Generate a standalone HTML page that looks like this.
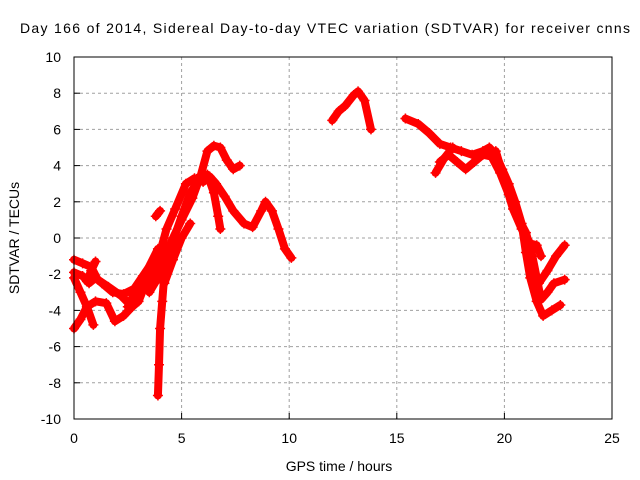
<!DOCTYPE html>
<html><head><meta charset="utf-8"><style>
body{margin:0;background:#fff}
svg{display:block;font-family:"Liberation Sans",sans-serif}
</style></head><body>
<svg id="chart" width="640" height="480">
<text x="20" y="33" font-size="14" textLength="610" lengthAdjust="spacing">Day 166 of 2014, Sidereal Day-to-day VTEC variation (SDTVAR) for receiver cnns</text>
<text x="339" y="471" font-size="14" text-anchor="middle">GPS time / hours</text>
<text transform="translate(19,238) rotate(-90)" font-size="14" text-anchor="middle">SDTVAR / TECUs</text>
<g id="grid"></g><g id="series"></g>
<rect x="74" y="57" width="538" height="362" fill="none" stroke="#000" stroke-width="1"/>
</svg>
<script>
const xTicks=[0,5,10,15,20,25];
const yTicks=[-10,-8,-6,-4,-2,0,2,4,6,8,10];
const tracks=[
[[0,-1.2],[0.4,-1.4],[0.8,-1.6],[1.1,-2.3],[1.6,-2.7],[2.2,-3.2],[2.7,-3.8],[3.1,-3.0],[3.6,-2.1],[4.1,-1.3],[4.6,0],[5.0,1.0],[5.5,2.2],[5.9,3.5],[6.2,4.8],[6.5,5.1],[6.8,5.0],[7.1,4.3],[7.4,3.8],[7.7,4.0]],
[[0,-1.9],[0.4,-2.1],[0.7,-2.5],[1.0,-2.2],[1.3,-2.5],[1.8,-3.0],[2.3,-3.1],[2.8,-2.8],[3.2,-2.1],[3.6,-1.4]],
[[0.6,-2.4],[0.8,-1.8],[1.0,-1.3]],
[[0,-2.2],[0.3,-3.0],[0.6,-3.8],[0.9,-4.8]],
[[0,-5.0],[0.3,-4.5],[0.6,-3.8],[1.0,-3.5],[1.5,-3.6],[1.9,-4.6],[2.3,-4.3],[2.7,-3.8],[3.0,-3.5],[3.3,-2.6],[3.7,-1.8],[4.0,-0.8],[4.3,0.5],[4.7,1.6],[5.2,3.0],[5.6,3.3],[6.0,3.1],[6.3,3.4],[6.6,3.0],[7.0,2.3],[7.4,1.5],[7.9,0.8],[8.3,0.6],[8.7,1.5],[8.9,2.0],[9.2,1.5],[9.5,0.5],[9.8,-0.6],[10.1,-1.1]],
[[4.2,-2.0],[4.1,-3.5],[4.0,-5.0],[3.95,-7.0],[3.9,-8.7]],
[[3.5,-3.0],[4.0,-2.0],[4.5,-0.5],[5.0,1.2],[5.4,2.5],[5.8,3.2],[6.2,3.5],[6.5,2.5],[6.7,1.2],[6.8,0.5]],
[[2.5,-3.8],[3.0,-2.6],[3.4,-1.8],[3.9,-0.6]],
[[3.8,1.2],[4.0,1.5]],
[[4.2,-2.5],[4.6,-1.2],[5.0,0],[5.4,0.8]],
[[12.0,6.5],[12.3,7.0],[12.6,7.3],[13.0,7.9],[13.2,8.1],[13.5,7.6],[13.8,6.0]],
[[15.4,6.6],[16.0,6.3],[16.5,5.8],[17.0,5.2],[17.5,5.0],[18.0,4.8],[18.5,4.6],[19.0,4.8],[19.3,5.0],[19.6,4.6],[19.9,3.8],[20.2,3.0],[20.5,2.0],[20.8,0.8],[21.0,-0.8],[21.2,-2.2],[21.5,-3.5],[21.8,-4.3],[22.2,-4.0],[22.6,-3.7]],
[[17.0,4.2],[17.4,4.6],[17.8,4.2],[18.2,3.8],[18.6,4.2],[19.0,4.6],[19.4,4.5],[19.8,3.6],[20.2,2.4],[20.6,1.2],[21.0,0.3],[21.3,-1.0],[21.5,-2.2],[21.7,-3.4],[22.0,-3.0],[22.3,-2.5],[22.8,-2.3]],
[[19.6,4.8],[20.0,3.2],[20.4,1.6],[20.8,0.5],[21.2,-0.3],[21.5,-0.4],[21.7,-1.0]],
[[21.6,-2.5],[22.0,-1.8],[22.4,-1.0],[22.8,-0.4]],
[[16.8,3.6],[17.2,4.4],[17.6,5.0]]
];
const NS='http://www.w3.org/2000/svg';
const X=v=>74+v*538/25, Y=v=>238-v*18.1;
const grid=document.getElementById('grid'), ser=document.getElementById('series');
function mk(tag,attrs,parent){const e=document.createElementNS(NS,tag);for(const k in attrs)e.setAttribute(k,attrs[k]);parent.appendChild(e);return e;}
xTicks.forEach(t=>{
  if(t>0&&t<25){const l=mk('line',{x1:X(t),x2:X(t),y1:57,y2:419,stroke:'#a0a0a0','stroke-dasharray':'3,3'},grid);
  
  }
  const tk=mk('line',{x1:X(t),x2:X(t),y1:419,y2:413,stroke:'#000'},grid);
  
  
  const tx=mk('text',{x:X(t),y:443,'font-size':14,'text-anchor':'middle'},grid);tx.textContent=t;
  
  
});
yTicks.forEach(t=>{
  if(t>-10&&t<10){const l=mk('line',{x1:74,x2:612,y1:Y(t),y2:Y(t),stroke:'#a0a0a0','stroke-dasharray':'3,3'},grid);
  
  }
  const tk=mk('line',{x1:74,x2:80,y1:Y(t),y2:Y(t),stroke:'#000'},grid);
  
  
  const tx=mk('text',{x:61,y:Y(t)+5,'font-size':14,'text-anchor':'end'},grid);tx.textContent=t;
  
  
});
tracks.forEach(tr=>{
  const p=mk('polyline',{points:tr.map(d=>X(d[0])+','+Y(d[1])).join(' '),fill:'none',stroke:'#f00','stroke-width':8,'stroke-linejoin':'round','stroke-linecap':'round'},ser);
  
  
  tr.forEach(d=>{const m=mk('path',{d:`M${X(d[0])-5},${Y(d[1])}h10M${X(d[0])},${Y(d[1])-5}v10`,stroke:'#f00','stroke-width':1.5},ser);
    
    });
});
</script>
</body></html>
